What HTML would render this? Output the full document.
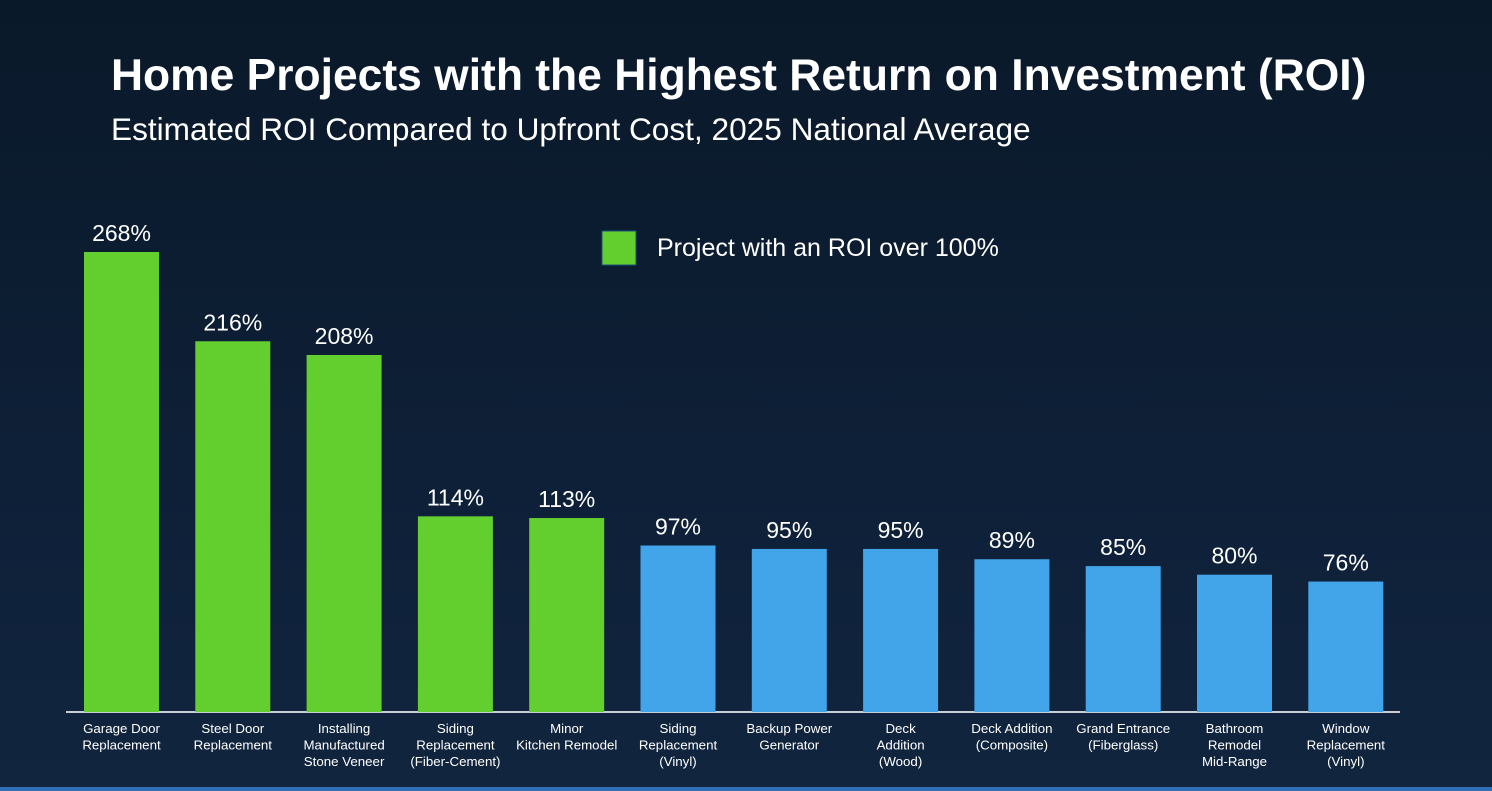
<!DOCTYPE html>
<html><head><meta charset="utf-8"><style>
html,body{margin:0;padding:0;width:1492px;height:791px;overflow:hidden;font-family:"Liberation Sans",Arial,sans-serif;}
body{background:linear-gradient(180deg,#0a1929 0%,#0e2038 60%,#11253f 100%);position:relative;}
#title{position:absolute;left:111px;top:50px;margin:0;color:#fff;font-size:44.4px;font-weight:bold;line-height:52px;white-space:nowrap;}
#subtitle{position:absolute;left:111px;top:111px;color:#fff;font-size:31.6px;line-height:36px;white-space:nowrap;}
#strip{position:absolute;left:0;top:787px;width:1492px;height:4px;background:#2f6fb8;}
svg{position:absolute;left:0;top:0;}
</style></head><body>
<h1 id="title">Home Projects with the Highest Return on Investment (ROI)</h1>
<div id="subtitle">Estimated ROI Compared to Upfront Cost, 2025 National Average</div>
<div id="strip"></div>
<svg id="chart" width="1492" height="791">
  <g>
    <rect x="602" y="231" width="34" height="34" fill="#62cf2e" stroke="#1d4f7a" stroke-width="1"/>
    <text x="657" y="256" fill="#fff" font-size="25" font-family="Liberation Sans, Arial, sans-serif">Project with an ROI over 100%</text>
  </g>
  <line x1="66" y1="712" x2="1400" y2="712" stroke="#c9ced6" stroke-width="2"/>
  <g id="bars"></g>
</svg>
<script>
const categories = [
  ["Garage Door","Replacement"],["Steel Door","Replacement"],["Installing","Manufactured","Stone Veneer"],
  ["Siding","Replacement","(Fiber-Cement)"],["Minor","Kitchen Remodel"],["Siding","Replacement","(Vinyl)"],
  ["Backup Power","Generator"],["Deck","Addition","(Wood)"],["Deck Addition","(Composite)"],
  ["Grand Entrance","(Fiberglass)"],["Bathroom","Remodel","Mid-Range"],["Window","Replacement","(Vinyl)"]
];
const roiValues = [268,216,208,114,113,97,95,95,89,85,80,76];
const threshold = 100;

const baseY = 712, pxPer = 460/268, firstX = 84, step = 111.3, barW = 75;
function xPos(i){ return firstX + i*step; }
function yPos(v){ return baseY - v*pxPer; }
const NS = "http://www.w3.org/2000/svg";
const g = document.getElementById('bars');
roiValues.forEach((v,i)=>{
  const r = document.createElementNS(NS,'rect');
  r.setAttribute('x', xPos(i)); r.setAttribute('y', yPos(v));
  r.setAttribute('width', barW); r.setAttribute('height', baseY - yPos(v));
  r.setAttribute('fill', v > threshold ? '#62cf2e' : '#42a5ea');
  
  
  g.appendChild(r);
  const t = document.createElementNS(NS,'text');
  t.setAttribute('x', xPos(i)+barW/2); t.setAttribute('y', yPos(v)-11);
  t.setAttribute('text-anchor','middle'); t.setAttribute('fill','#fff');
  t.setAttribute('font-size','23'); t.setAttribute('font-family','Liberation Sans, Arial, sans-serif');
  t.textContent = v + '%';
  
  
  g.appendChild(t);
  const lt = document.createElementNS(NS,'text');
  lt.setAttribute('text-anchor','middle'); lt.setAttribute('fill','#fff');
  lt.setAttribute('font-size','13.3'); lt.setAttribute('font-family','Liberation Sans, Arial, sans-serif');
  
  
  categories[i].forEach((line,j)=>{
    const ts = document.createElementNS(NS,'tspan');
    ts.setAttribute('x', xPos(i)+barW/2);
    ts.setAttribute('y', 733 + j*16.5);
    ts.textContent = line;
    lt.appendChild(ts);
  });
  g.appendChild(lt);
});
</script>
</body></html>
